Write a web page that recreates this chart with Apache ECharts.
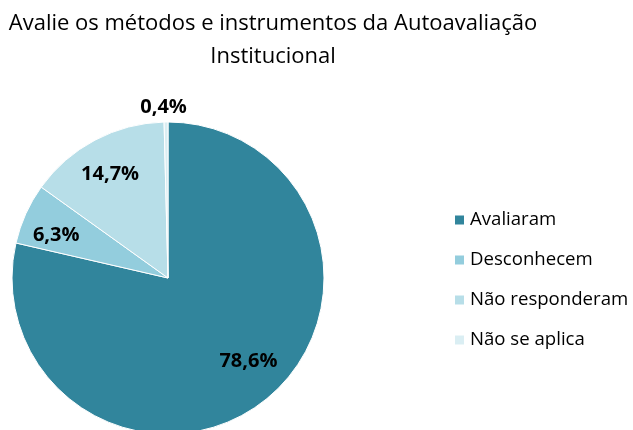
<!DOCTYPE html>
<html>
<head>
<meta charset="utf-8">
<script src="https://cdn.jsdelivr.net/npm/echarts@6/dist/echarts.min.js"></script>
<style>
  html, body { margin: 0; padding: 0; background: #fff; }
  #chart { width: 633px; height: 430px; }
</style>
</head>
<body>
<div id="chart"></div>
<script>
// Responses to the self-assessment methods question (percent)
const categories = ['Avaliaram', 'Desconhecem', 'Não responderam', 'Não se aplica'];
const shares = [78.6, 6.3, 14.7, 0.4];
const sliceColors = ['#31859C', '#93CDDD', '#B7DEE8', '#DAEEF3'];

// Nudges that move each label toward where it sits best on its slice
const labelNudge = {
  'Avaliaram': [30, 20],
  'Desconhecem': [-38, -9],
  'Não responderam': [-20, -32],
  'Não se aplica': [26, 1]
};

const fontFamily = '"Open Sans", Lato, sans-serif';

const chart = echarts.init(document.getElementById('chart'), null, { renderer: 'canvas' });

const pieData = categories.map((name, i) => {
  const item = { name, value: shares[i], itemStyle: { color: sliceColors[i] } };
  if (shares[i] >= 1) {
    item.label = { position: 'inside', offset: labelNudge[name] };
  } else {
    // tiny slice: label sits just above the rim
    item.label = { position: 'outside', offset: labelNudge[name] };
    item.labelLine = { show: false, length: 16, length2: 0 };
  }
  return item;
});

chart.setOption({
  animation: false,
  backgroundColor: '#ffffff',
  title: {
    text: 'Avalie os métodos e instrumentos da Autoavaliação\nInstitucional',
    left: 273,
    top: 7,
    padding: 0,
    textAlign: 'center',
    textStyle: {
      fontFamily,
      fontSize: 22,
      fontWeight: 'normal',
      color: '#000000',
      lineHeight: 33
    }
  },
  legend: {
    orient: 'vertical',
    left: 448,
    top: 203,
    itemWidth: 11,
    itemHeight: 11,
    itemGap: 16,
    icon: 'rect',
    data: categories,
    textStyle: { fontFamily, fontSize: 18.6, color: '#000000', lineHeight: 24 }
  },
  series: [{
    type: 'pie',
    center: [168, 278],
    radius: 156,
    startAngle: 90,
    clockwise: true,
    avoidLabelOverlap: false,
    itemStyle: { borderColor: '#ffffff', borderWidth: 1 },
    label: {
      formatter: p => p.value.toFixed(1).replace('.', ',') + '%',
      fontFamily,
      fontSize: 20,
      fontWeight: 'bold',
      color: '#000000'
    },
    emphasis: { disabled: true },
    data: pieData
  }]
});
</script>
</body>
</html>
